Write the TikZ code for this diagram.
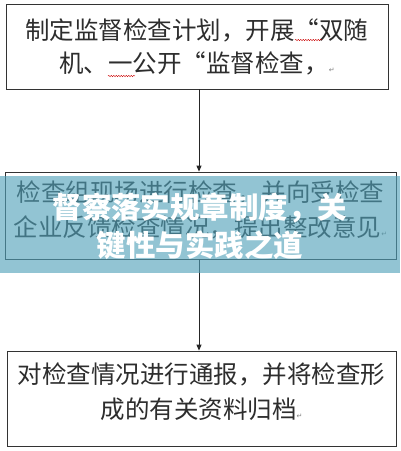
\documentclass[tikz,border=0pt]{standalone}
\usepackage{fontspec}
\newfontfamily\cjk{Noto Sans CJK SC}
\newfontfamily\dejavu{DejaVu Sans}
\usetikzlibrary{arrows.meta,decorations.pathmorphing}
\definecolor{bannerc}{RGB}{80,161,185}
\definecolor{ink}{RGB}{45,45,45}
\newcommand\retmark{{\dejavu\fontsize{7}{7}\selectfont\textcolor{gray}{↵}}}
\begin{document}
\begin{tikzpicture}[x=1pt,y=-1pt,
  box/.style={draw=black!80, line width=0.8pt, inner sep=0pt, align=center, text=ink},
  boxfont/.style={font=\cjk\fontsize{24.5}{#1}\selectfont},
  arr/.style={draw=black!85, line width=0.8pt, -{Triangle[length=6pt,width=5pt]}},
  squig/.style={draw=red!80!black, line width=0.4pt, decorate, decoration={snake, amplitude=0.7pt, segment length=2.5pt}},
  title/.style={font=\cjk\bfseries\fontsize{29.5}{38}\selectfont, text=white, align=center}]
\useasboundingbox (0,0) rectangle (400,451);
\fill[white] (0,0) rectangle (400,451);
\node[box, boxfont=33, minimum width=382pt, minimum height=85pt] (b1) at (197,46.5)
  {制定监督检查计划，开展“双随\\机、一公开“监督检查，\retmark};
\node[box, boxfont=35, minimum width=391pt, minimum height=87pt, text depth=13pt] (b2) at (200.5,215.5)
  {检查组现场进行检查，并向受检查\\企业反馈检查情况，提出整改意见\retmark};
\node[box, boxfont=35, minimum width=389pt, minimum height=95pt, text depth=15pt] (b3) at (201.5,398.5)
  {对检查情况进行通报，并将检查形\\成的有关资料归档\retmark};
\draw[arr] (b1.south -| 199,0) -- (b2.north -| 199,0);
\draw[arr] (b2.south -| 199,0) -- (b3.north -| 199,0);
\draw[squig] (295,40) -- (322,40);
\draw[squig] (108,76) -- (135,76);
\fill[bannerc, fill opacity=0.62] (0,176) rectangle (400,273);
\node[title] (t) at (200,226) {督察落实规章制度，关\\键性与实践之道};
\end{tikzpicture}
\end{document}
